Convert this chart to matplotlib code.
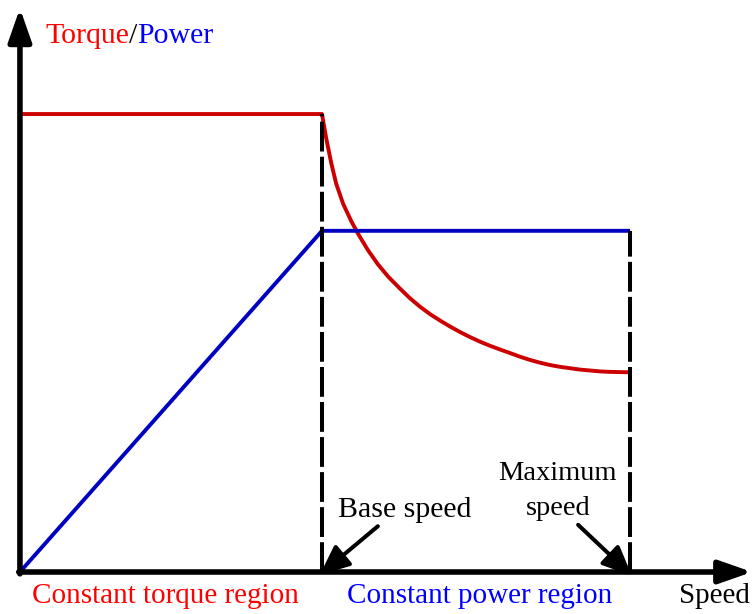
import matplotlib.pyplot as plt
import numpy as np

# speed in units of base speed, torque/power in units of rated torque
base_speed = 1.0
max_speed = 2.02
rated_torque = 1.0
rated_power = 0.745

torque_speed = [0.0, 1.0, 1.014, 1.031, 1.047, 1.070, 1.097, 1.119, 1.152,
                1.185, 1.219, 1.258, 1.291, 1.325, 1.358, 1.391, 1.424,
                1.457, 1.490, 1.523, 1.556, 1.589, 1.623, 1.656, 1.689,
                1.722, 1.755, 1.788, 1.821, 1.854, 1.887, 1.921, 1.954, 2.02]
torque_vals = [1.0, 1.0, 0.947, 0.892, 0.848, 0.804, 0.766, 0.739, 0.703,
               0.672, 0.645, 0.619, 0.598, 0.579, 0.563, 0.549, 0.536,
               0.524, 0.513, 0.503, 0.494, 0.486, 0.478, 0.470, 0.463,
               0.457, 0.452, 0.448, 0.445, 0.442, 0.440, 0.438, 0.437, 0.436]

power_speed = [0.0, base_speed, max_speed]
power_vals = [0.0, rated_power, rated_power]

region_labels = ['Constant torque region', 'Constant power region']

plt.rcParams['font.family'] = ['Liberation Serif', 'DejaVu Serif']

red_line = '#cc0000'
blue_line = '#0000c0'
red_text = '#ff0000'
blue_text = '#0000ff'

fig = plt.figure(figsize=(7.53, 6.14), dpi=100)
ax = fig.add_axes([0, 0, 1, 1])
ax.set_xlim(-0.066, 2.427)
ax.set_ylim(-0.0917, 1.249)
ax.axis('off')

# curves
ax.plot(torque_speed, torque_vals, color=red_line, lw=2.8, zorder=3,
        solid_capstyle='butt', solid_joinstyle='round')
ax.plot(power_speed, power_vals, color=blue_line, lw=2.8, zorder=3,
        solid_capstyle='butt')

# dashed guides
ax.plot([base_speed, base_speed], [0, rated_torque], color='black', lw=2.9,
        dashes=(7.4, 1.3), zorder=4)
ax.plot([max_speed, max_speed], [0, rated_power], color='black', lw=2.9,
        dashes=(7.4, 1.3), zorder=4)

# axes with arrows
axis_arrow = dict(arrowstyle='-|>,head_length=20,head_width=7', mutation_scale=1,
                  lw=4.0, color='black', shrinkA=0, shrinkB=0)
ax.annotate('', xy=(0, 1.231), xytext=(0, -0.004), arrowprops=axis_arrow, zorder=5)
ax.annotate('', xy=(2.424, 0), xytext=(-0.004, 0), arrowprops=axis_arrow, zorder=5)

# axis title, three colours
t1 = ax.text(0.083, 1.155, 'Torque', color=red_text, fontsize=21.5, va='baseline')
t2 = ax.annotate('/', xy=(1, 0), xycoords=t1, color='black', fontsize=21.5,
                 va='bottom')
ax.annotate('Power', xy=(1, 0), xycoords=t2, color=blue_text, fontsize=21.5,
            va='bottom')

ax.text(2.3, -0.068, 'Speed', fontsize=21, ha='center', va='baseline')
ax.text(0.482, -0.068, region_labels[0], color=red_text, fontsize=21,
        ha='center', va='baseline')
ax.text(1.522, -0.068, region_labels[1], color=blue_text, fontsize=21,
        ha='center', va='baseline')

# annotations
note_arrow = dict(arrowstyle='-|>,head_length=18,head_width=8', mutation_scale=1,
                  lw=2.9, color='black', shrinkA=0, shrinkB=0)
ax.annotate('', xy=(0.993, -0.006), xytext=(1.185, 0.100), arrowprops=note_arrow,
            zorder=6)
ax.annotate('', xy=(2.026, -0.008), xytext=(1.848, 0.103), arrowprops=note_arrow,
            zorder=6)
ax.text(1.274, 0.120, 'Base speed', fontsize=21.5, ha='center', va='baseline')
ax.text(1.781, 0.201, 'Maximum', fontsize=20.5, ha='center', va='baseline')
ax.text(1.781, 0.124, 'speed', fontsize=20.5, ha='center', va='baseline')

fig.savefig('out.png', dpi=100, facecolor='white')
